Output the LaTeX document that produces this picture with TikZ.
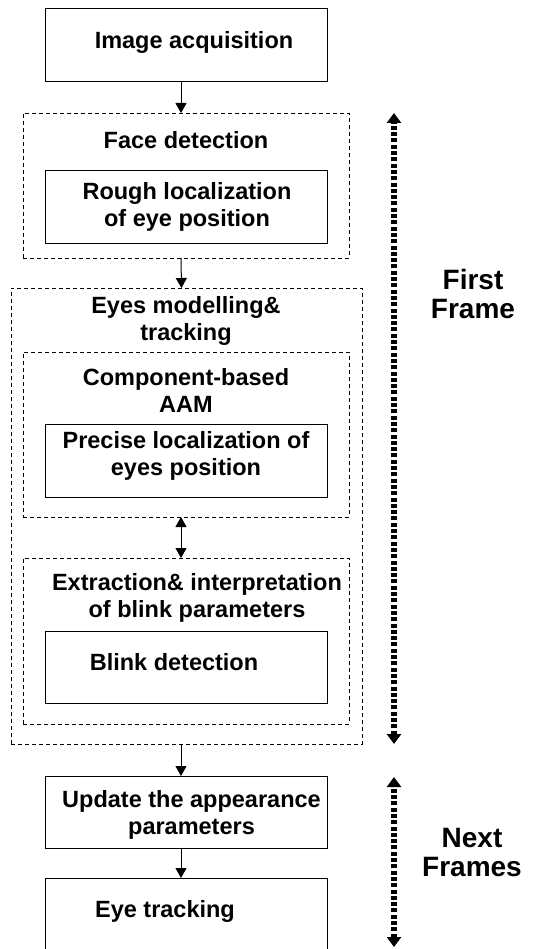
\documentclass[tikz,border=0pt]{standalone}
\usepackage{fontspec}
\setmainfont{Liberation Sans}
\usetikzlibrary{arrows.meta}
\begin{document}
\begin{tikzpicture}[x=1pt,y=-1pt,
  every node/.style={inner sep=0pt, outer sep=0pt},
  box/.style={draw, line width=1pt, minimum width=282pt},
  dbox/.style={draw, line width=0.9pt, dash pattern=on 4pt off 3pt, minimum width=326pt},
  txt/.style={align=center, font=\bfseries\fontsize{23.5}{27}\selectfont},
  big/.style={align=center, font=\bfseries\fontsize{28}{29}\selectfont},
  arr/.style={line width=1pt, -{Triangle[width=11pt,length=10pt]}},
  darr/.style={line width=1pt, {Triangle[width=11pt,length=10pt]}-{Triangle[width=11pt,length=10pt]}},
  dots/.style={line width=6pt, dash pattern=on 4pt off 2.3pt, {Triangle[width=14pt,length=10pt]}-{Triangle[width=14pt,length=10pt]}}
]
\clip (0,0) rectangle (532,949);
\fill[white] (0,0) rectangle (532,949);

% boxes
\node[box, minimum height=73pt] (acq) at (186,45.5) {};
\node[txt] (acqt) at (194,42) {Image acquisition};

\node[dbox, minimum height=145pt] (face) at (186,185.5) {};
\node[txt] (facet) at (186,140) {Face detection};
\node[box, minimum height=73pt] (rough) at (186,207.5) {};
\node[txt] (rought) at (187,206.5) {Rough localization\\of eye position};

\node[dbox, minimum width=351pt, minimum height=456pt] (eyes) at (186.5,516) {};
\node[txt] (eyest) at (186,320.5) {Eyes modelling\&\\tracking};

\node[dbox, minimum height=165pt] (comp) at (186,434.5) {};
\node[txt] (compt) at (186,390) {Component-based\\AAM};
\node[box, minimum height=73pt] (prec) at (186,460.5) {};
\node[txt] (prect) at (186,456) {Precise localization of\\eyes position};

\node[dbox, minimum height=166pt] (extr) at (186,641) {};
\node[txt] (extrt) at (197,598) {Extraction\& interpretation\\of blink parameters};
\node[box, minimum height=72pt] (blink) at (186,667) {};
\node[txt] (blinkt) at (174,662) {Blink detection};

\node[box, minimum height=72pt] (upd) at (186,812) {};
\node[txt] (updt) at (191.5,815) {Update the appearance\\parameters};

\node[box, minimum height=100pt] (track) at (186,928) {};
\node[txt] (trackt) at (165,911) {Eye tracking};

% connectors
\draw[arr] ([xshift=-5pt]acq.south) -- ([xshift=-5pt]face.north);
\draw[arr] ([xshift=-5pt]face.south) -- ([xshift=-5pt]eyes.north);
\draw[darr] ([xshift=-5pt]comp.south) -- ([xshift=-5pt]extr.north);
\draw[arr] ([xshift=-5.5pt]eyes.south) -- ([xshift=-5pt]upd.north);
\draw[arr] ([xshift=-5pt]upd.south) -- ([xshift=-5pt]track.north);

% frame ranges
\coordinate (f1a) at (394,113);
\coordinate (f1b) at (394,744);
\coordinate (f2a) at (394,777);
\coordinate (f2b) at (394,947);
\draw[dots] (f1b) -- (f1a);
\draw[dots] (f2b) -- (f2a);
\node[big] (first) at (473,294) {First\\Frame};
\node[big] (next) at (472,852) {Next\\Frames};
\end{tikzpicture}
\end{document}
